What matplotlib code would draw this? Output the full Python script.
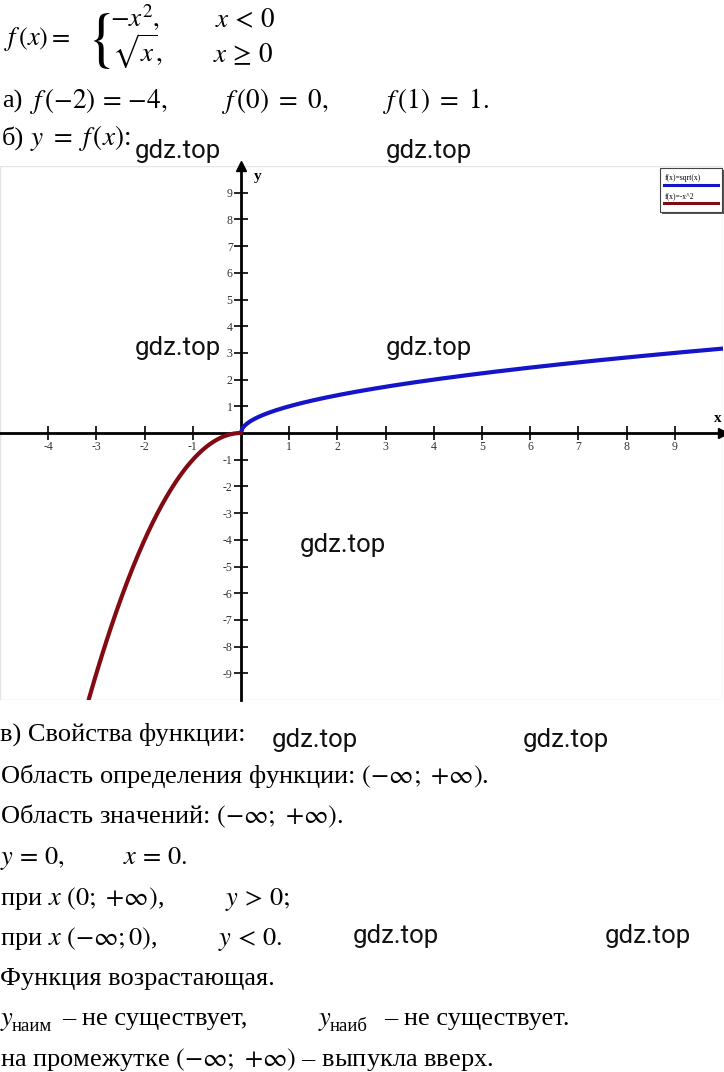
import numpy as np
import matplotlib
matplotlib.use("Agg")
import matplotlib.pyplot as plt
from matplotlib.patches import Rectangle
from matplotlib.lines import Line2D

plt.rcParams['font.family'] = ['Liberation Serif', 'DejaVu Serif']
plt.rcParams['mathtext.fontset'] = 'stix'
plt.rcParams['axes.unicode_minus'] = False

W, H = 724, 1072

# branches of the piecewise function and the visible x range
x_left_end = -3.16
x_right_end = 10
xticks = [-4, -3, -2, -1, 1, 2, 3, 4, 5, 6, 7, 8, 9]
yticks = [-9, -8, -7, -6, -5, -4, -3, -2, -1, 1, 2, 3, 4, 5, 6, 7, 8, 9]
legend_labels = ["f(x)=sqrt(x)", "f(x)=-x^2"]
blue = "#1414c8"
red = "#820a12"

x_neg = np.linspace(x_left_end, 0, 200)
y_neg = -x_neg**2
x_pos = np.linspace(0, x_right_end, 400)
y_pos = np.sqrt(x_pos)

fig = plt.figure(figsize=(W/100, H/100), dpi=100)


def T(px, py, s, size=19, **kw):
    kw.setdefault("va", "baseline")
    fig.text(px/W, 1 - py/H, s, fontsize=size, **kw)


def wm(px, py):
    fig.text(px/W, 1 - py/H, "gdz.top", fontsize=18.5, family="Roboto",
             va="center", color="#111111", zorder=10)


INF = r"$(-\infty;\ {+}\infty)$"

# ---- top formula
T(4, 45, r"$f\,(x)=$", size=19)
T(86, 58, r"$\{$", size=46, family="DejaVu Serif")
T(110, 27, r"$-x^2,$", size=19.5)
T(215, 27, r"$x\,<\,0$", size=19.5)
T(112, 62, r"$\sqrt{x},$", size=19.5)
T(213, 62, r"$x\,\geq\,0$", size=19.5)

T(2, 108, "а)", size=19)
T(30, 108, r"$f\,(-2)\,=\,{-}4,$", size=19.5)
T(222, 108, r"$f\,(0)\ =\ 0,$", size=19.5)
T(383, 108, r"$f\,(1)\ =\ 1.$", size=19.5)
T(2, 145, "б)", size=19)
T(30, 145, r"$y\ =\ f\,(x)$:", size=19.5)

# ---- graph
ax = fig.add_axes([0, 1 - 700/H, 723/W, 534/H])
ax.set_xlim(-5, 10)
ax.set_ylim(-10, 10)
ax.plot(x_pos, y_pos, color=blue, lw=3, solid_capstyle="round", zorder=3)
ax.plot(x_neg, y_neg, color=red, lw=3, solid_capstyle="round", zorder=3)

ax.set_xticks(range(-5, 11), minor=True)
ax.set_yticks(range(-10, 11), minor=True)
ax.grid(which="minor", color="#e4e4e4", lw=1)
ax.set_xticks(xticks)
ax.set_yticks(yticks)
ax.tick_params(which="minor", length=0)
ax.tick_params(which="major", direction="inout", length=10, width=1.2,
               labelsize=8.5, pad=1, labelcolor="#333333")

ax.spines["left"].set_position(("data", 0))
ax.spines["bottom"].set_position(("data", 0))
ax.spines["right"].set_visible(False)
ax.spines["top"].set_visible(False)
ax.spines["left"].set_linewidth(2)
ax.spines["bottom"].set_linewidth(2)
ax.plot(1, 0, ">k", ms=7, transform=ax.get_yaxis_transform(), clip_on=False)
ax.plot(0, 1, "^k", ms=7, transform=ax.get_xaxis_transform(), clip_on=False)
ax.text(9.9, 0.3, "x", fontsize=11, fontweight="bold", ha="center", va="bottom")
ax.text(0.35, 9.6, "y", fontsize=11, fontweight="bold", ha="center", va="center")

# legend box
fig.patches.append(Rectangle((662/W, 1 - 214/H), 62/W, 44/H, transform=fig.transFigure,
                             facecolor="#555555", edgecolor="none", zorder=5))
fig.patches.append(Rectangle((660/W, 1 - 212/H), 62/W, 44/H, transform=fig.transFigure,
                             facecolor="white", edgecolor="#444444", lw=0.8, zorder=6))
for i, (lab, c) in enumerate(zip(legend_labels, [blue, red])):
    y0 = 178 + i * 18
    fig.text(665/W, 1 - y0/H, lab, fontsize=5.5, va="center", zorder=7)
    fig.add_artist(Line2D([664/W, 718/W], [1 - (y0 + 7)/H, 1 - (y0 + 7)/H],
                          color=c, lw=2.2, zorder=7))

# ---- properties text
T(0, 741, "в) Свойства функции:")
T(0, 783, "Область определения функции: " + INF + ".")
T(0, 823, "Область значений: " + INF + ".")
T(0, 864, r"$y\,=\,0,$")
T(123, 864, r"$x\,=\,0.$")
T(0, 905, r"при $x$ $(0;\ {+}\infty)$,")
T(225, 905, r"$y\,>\,0;$")
T(0, 945, r"при $x$ $(-\infty;0)$,")
T(218, 945, r"$y\,<\,0.$")
T(0, 985, "Функция возрастающая.")
T(0, 1025, r"$y$")
T(12, 1031, "наим", size=13.5)
T(62, 1025, "– не существует,")
T(318, 1025, r"$y$")
T(330, 1031, "наиб", size=13.5)
T(384, 1025, "– не существует.")
T(0, 1066, "на промежутке " + INF + " – выпукла вверх.")

# watermarks
for p in [(135, 151), (386, 151), (135, 348), (386, 348), (300, 545),
          (272, 740), (523, 740), (353, 936), (605, 936)]:
    wm(*p)

fig.savefig("out.png", dpi=100)
